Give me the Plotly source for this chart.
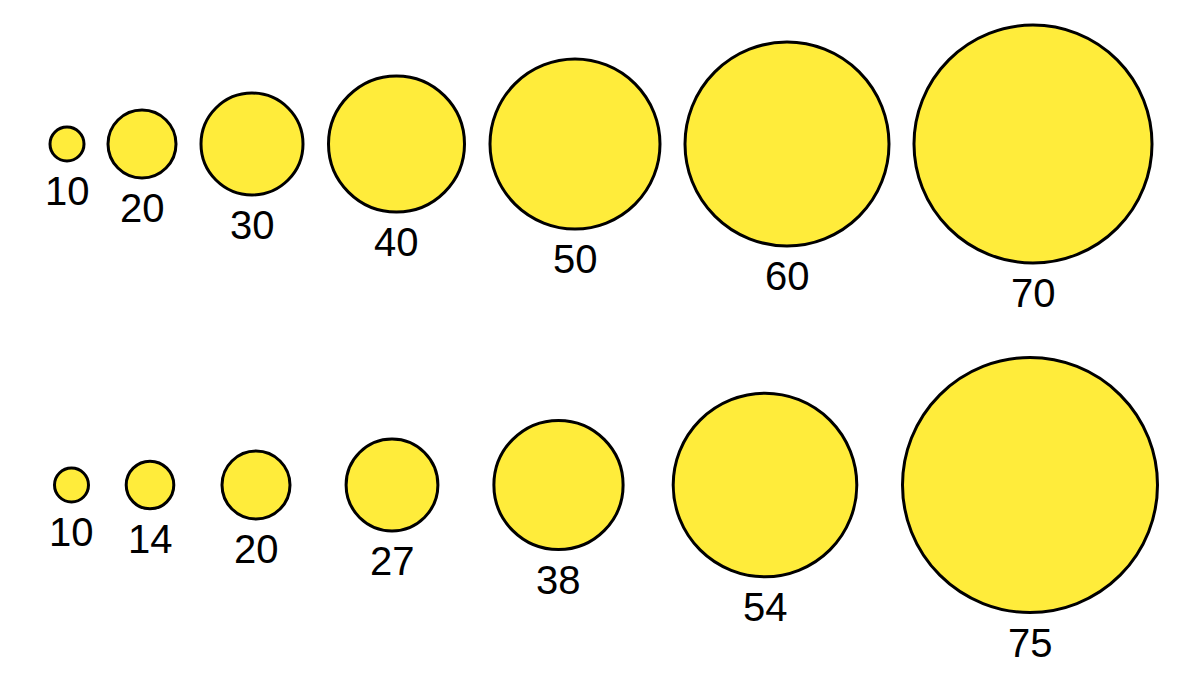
import plotly.graph_objects as go

# Data: two rows of values shown as circles (diameter proportional to value)
top_values = [10, 20, 30, 40, 50, 60, 70]
bottom_values = [10, 14, 20, 27, 38, 54, 75]

# Horizontal placement of each circle (in page units)
top_x = [67, 142, 252, 396.5, 575, 787, 1033]
bottom_x = [71.5, 150, 256, 392, 558.5, 765, 1030]

# Vertical position of each row (page units, top-down)
row_y = {"top": 144, "bottom": 485}

PX_PER_UNIT = 3.4       # marker diameter in px per value unit
LINE_W = 3
LABEL_GAP = 28.5        # px from circle bottom edge to label centre
FILL = "#FFEC3B"
EDGE = "#000000"
FONT = "Liberation Sans, Arial, Helvetica, sans-serif"

fig = go.Figure()
annotations = []
for key, xs, vals in (("top", top_x, top_values), ("bottom", bottom_x, bottom_values)):
    fig.add_trace(go.Scatter(
        x=xs,
        y=[row_y[key]] * len(xs),
        mode="markers",
        marker=dict(
            size=vals,
            sizemode="diameter",
            sizeref=1 / PX_PER_UNIT,
            color=FILL,
            opacity=1,
            line=dict(color=EDGE, width=LINE_W),
        ),
        hoverinfo="skip",
        cliponaxis=False,
    ))
    for x, v in zip(xs, vals):
        annotations.append(dict(
            x=x, y=row_y[key], xref="x", yref="y",
            text=str(v), showarrow=False,
            yanchor="middle", xanchor="center",
            yshift=-(v * PX_PER_UNIT / 2 + LINE_W / 2 + LABEL_GAP),
            font=dict(family=FONT, size=40, color="#000000"),
        ))

fig.update_layout(
    width=1200, height=679,
    margin=dict(l=0, r=0, t=0, b=0),
    paper_bgcolor="white", plot_bgcolor="white",
    showlegend=False,
    annotations=annotations,
    xaxis=dict(range=[0, 1200], visible=False, fixedrange=True),
    yaxis=dict(range=[679, 0], visible=False, fixedrange=True),
)

fig.write_html(
    "out.html",
    config={"displayModeBar": False},
    post_script="document.body.style.margin='0';document.body.style.padding='0';document.body.style.overflow='hidden';",
)
